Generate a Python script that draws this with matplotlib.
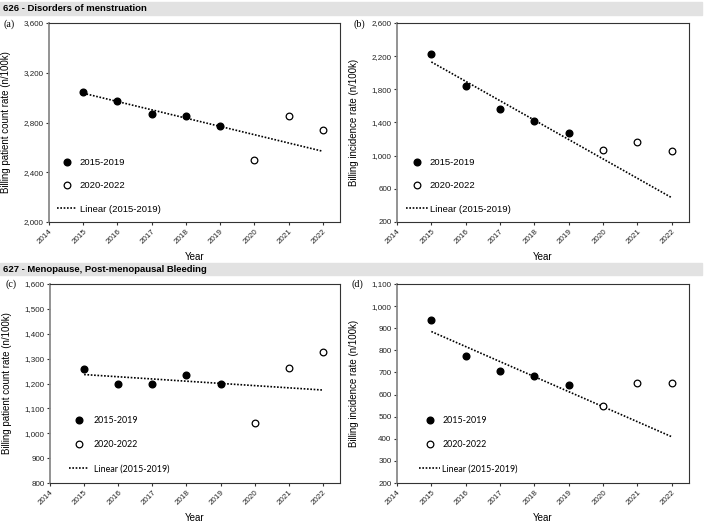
import numpy as np
import matplotlib
matplotlib.use("Agg")
import matplotlib.pyplot as plt
from matplotlib.patches import Rectangle
from matplotlib.ticker import FuncFormatter

plt.rcParams["font.family"] = ["Liberation Sans", "DejaVu Sans"]

### DATA
years = [2015, 2016, 2017, 2018, 2019, 2020, 2021, 2022]
n_fit = 5  # 2015-2019 used for the linear trend

# 626 - Disorders of menstruation
a_patient_rate = [3045, 2970, 2871, 2855, 2769, 2498, 2855, 2737]
b_incidence_rate = [2230, 1836, 1559, 1418, 1269, 1068, 1169, 1056]
# 627 - Menopause, Post-menopausal Bleeding
c_patient_rate = [1259, 1200, 1200, 1235, 1197, 1042, 1261, 1328]
d_incidence_rate = [937, 774, 708, 684, 642, 548, 652, 654]

group_titles = ["626 - Disorders of menstruation",
                "627 - Menopause, Post-menopausal Bleeding"]
legend_labels = ["2015-2019", "2020-2022", "Linear (2015-2019)"]

### FIGURE
W, H = 704, 522
fig = plt.figure(figsize=(W / 100, H / 100), dpi=100)


def px_axes(left, right, top, bottom):
    return fig.add_axes([left / W, 1 - bottom / H, (right - left) / W, (bottom - top) / H])


# gray header bars
for (y0, y1), title in zip([(2, 15), (263, 275)], group_titles):
    fig.patches.append(Rectangle((0, 1 - y1 / H), 702 / W, (y1 - y0) / H,
                                 transform=fig.transFigure, color="#e2e2e2", zorder=0))
    fig.text(3 / W, 1 - (y0 + y1) / 2 / H, title, fontsize=6.8, fontweight="bold",
             va="center", ha="left")

panels = [
    dict(y=a_patient_rate, ylim=(2000, 3600), step=400,
         ylabel="Billing patient count rate (n/100k)", box=(49, 340, 23, 222),
         tag="(a)", tagpos=(3, 24), anchor=(0.027, 0.042), lfont="Liberation Sans",
         lsize=6.8, hl=2.1, htp=0.3, ls=1.5),
    dict(y=b_incidence_rate, ylim=(200, 2600), step=400,
         ylabel="Billing incidence rate (n/100k)", box=(397, 689, 23, 222),
         tag="(b)", tagpos=(353, 24), anchor=(0.031, 0.042), lfont="Liberation Sans",
         lsize=6.8, hl=2.3, htp=0.2, ls=1.5),
    dict(y=c_patient_rate, ylim=(800, 1600), step=100,
         ylabel="Billing patient count rate (n/100k)", box=(50, 340, 284, 483),
         tag="(c)", tagpos=(5, 284), anchor=(0.065, 0.048), lfont="Lato",
         lsize=6.4, hl=2.2, htp=0.6, ls=1.7),
    dict(y=d_incidence_rate, ylim=(200, 1100), step=100,
         ylabel="Billing incidence rate (n/100k)", box=(397, 689, 284, 483),
         tag="(d)", tagpos=(352, 284), anchor=(0.075, 0.048), lfont="Lato",
         lsize=6.4, hl=2.4, htp=0.25, ls=1.7),
]

x = np.array(years)
for p in panels:
    ax = px_axes(*p["box"])
    y = np.array(p["y"])

    ax.plot(x[:n_fit], y[:n_fit], "o", color="black", markersize=4.8,
            label=legend_labels[0], zorder=3)
    ax.plot(x[n_fit:], y[n_fit:], "o", markerfacecolor="white", markeredgecolor="black",
            markeredgewidth=0.9, markersize=4.8, label=legend_labels[1], zorder=3)

    # linear trend fitted on 2015-2019, extended to 2022
    slope, intercept = np.polyfit(x[:n_fit], y[:n_fit], 1)
    ax.plot(x, slope * x + intercept, color="black", lw=1.2,
            linestyle=(0, (1, 1.0)), label=legend_labels[2], zorder=2)

    ax.set_xlim(2014, 2022.5)
    ax.set_xticks(range(2014, 2023))
    lo, hi = p["ylim"]
    ax.set_ylim(lo, hi)
    ax.set_yticks(np.arange(lo, hi + 1, p["step"]))
    ax.yaxis.set_major_formatter(FuncFormatter(lambda v, _: f"{v:,.0f}"))

    ax.tick_params(axis="both", labelsize=5.8, length=2.5, width=0.8, pad=1.5,
                   color="#333333", labelcolor="#222222")
    plt.setp(ax.get_xticklabels(), rotation=45, ha="right", rotation_mode="anchor")

    ax.spines["left"].set_color("#8a8a8a")
    ax.spines["left"].set_linewidth(1.3)
    for s in ["top", "right", "bottom"]:
        ax.spines[s].set_color("#333333")
        ax.spines[s].set_linewidth(0.8)

    ax.set_xlabel("Year", fontsize=7)
    ax.xaxis.set_label_coords(0.5, -0.15)
    ax.xaxis.label.set_va("top")
    ax.set_ylabel(p["ylabel"], fontsize=7)
    ax.yaxis.set_label_coords(-0.13, 0.5)

    ax.legend(loc="lower left", bbox_to_anchor=p["anchor"], frameon=False,
              borderaxespad=0, borderpad=0, labelspacing=p["ls"],
              handlelength=p["hl"], handletextpad=p["htp"],
              prop={"family": p["lfont"], "size": p["lsize"]})

    fig.text(p["tagpos"][0] / W, 1 - p["tagpos"][1] / H, p["tag"],
             family="Liberation Serif", fontsize=7.2, va="center", ha="left")

fig.savefig("out.png", dpi=100)
